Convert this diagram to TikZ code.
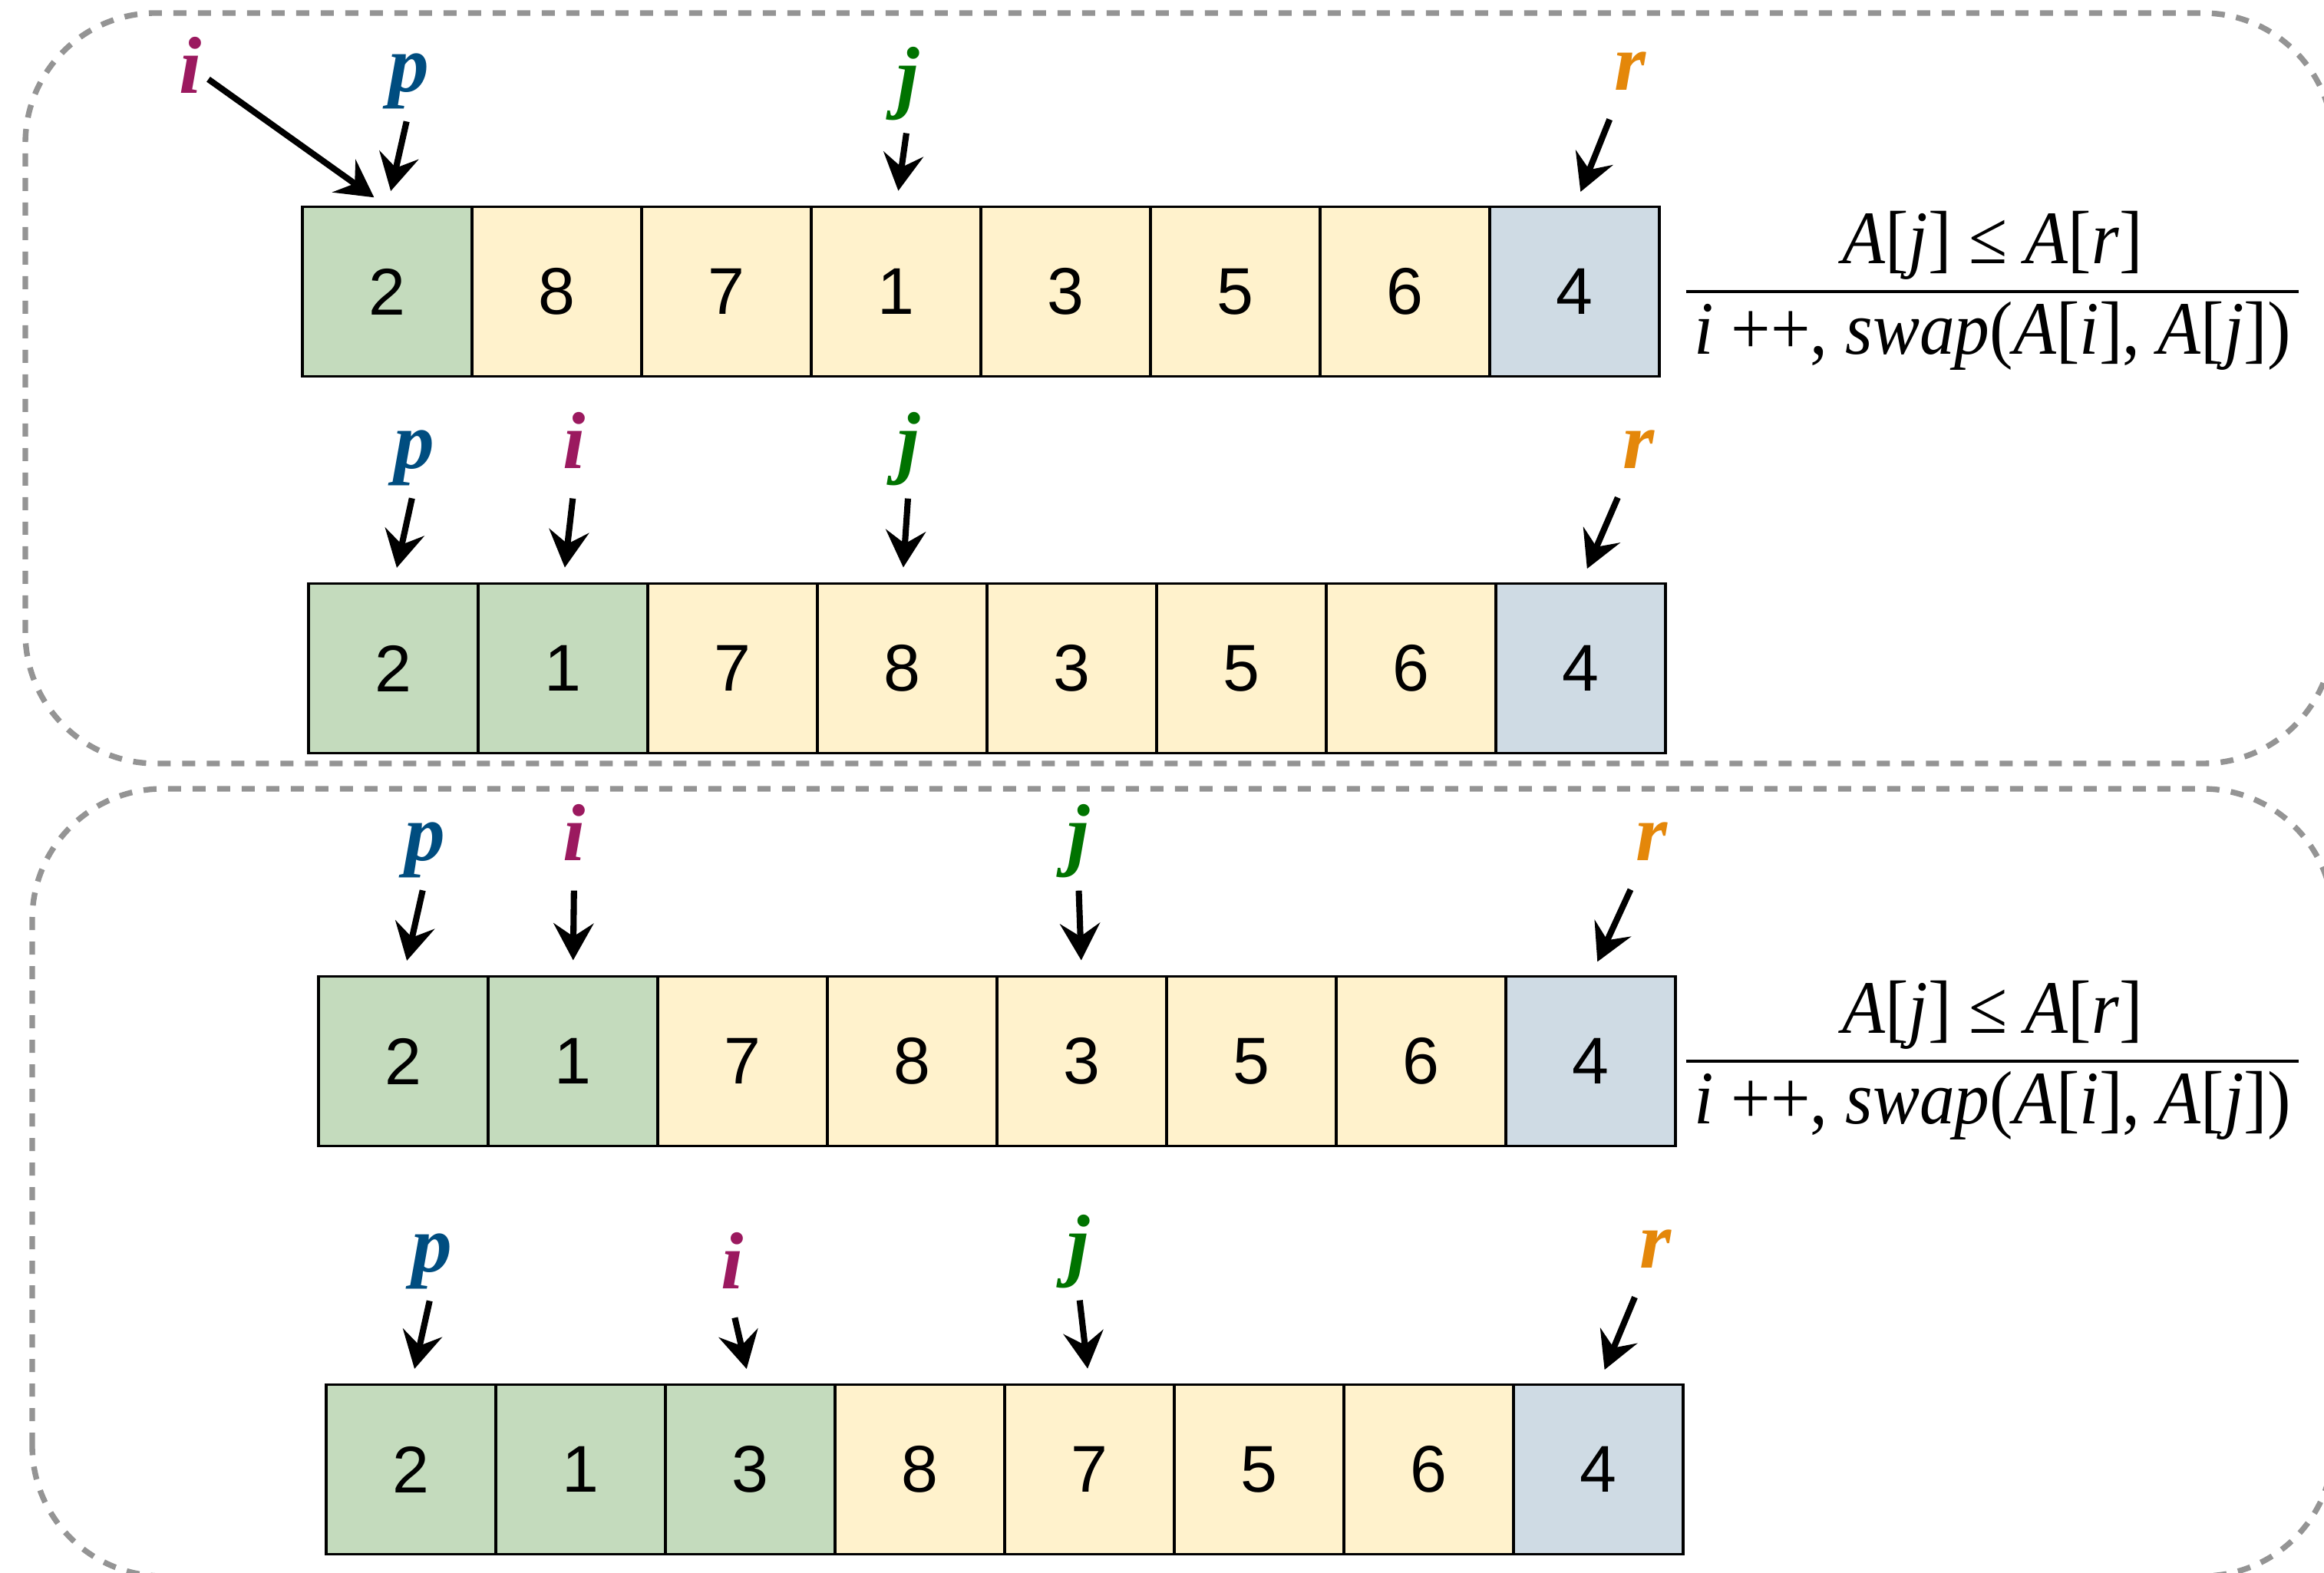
\documentclass[tikz,border=0pt]{standalone}
\usepackage{fontspec}
\usepackage{tikz}
\usetikzlibrary{arrows.meta, positioning}
\usepackage{xcolor}
\definecolor{cgreen}{RGB}{196,219,189}
\definecolor{cyellow}{RGB}{255,242,204}
\definecolor{cblue}{RGB}{207,219,228}
\definecolor{colI}{RGB}{155,25,95}
\definecolor{colP}{RGB}{0,77,128}
\definecolor{colJ}{RGB}{0,115,0}
\definecolor{colR}{RGB}{228,135,10}
\newfontfamily\numfont{Liberation Sans}
\newfontfamily\serfont{Liberation Serif}
\newfontfamily\condfont{Liberation Serif}[FakeStretch=0.93]
\setlength{\arrayrulewidth}{1.4pt}
\setlength{\tabcolsep}{3pt}

\tikzset{
    cell/.style={draw, line width=0.9pt, minimum size=2.21cm, inner sep=0pt, outer sep=0pt,
                 font=\numfont\fontsize{24.5}{29}\selectfont},
    lbl/.style={font=\serfont\bfseries\itshape\fontsize{30}{36}\selectfont, inner sep=0pt,
                text height=0.72cm, text depth=0.23cm, anchor=base},
    ptr/.style={-{Stealth[length=0.48cm, width=0.52cm, inset=0.17cm]}, line width=2.3pt,
                shorten <=0.15cm, shorten >=0.21cm},
    frame/.style={draw=black!42, line width=2.1pt, dash pattern=on 0.17cm off 0.15cm,
                  rounded corners=1.7cm},
    cond/.style={inner sep=0pt, font=\condfont\fontsize{28}{32}\selectfont}
}

\begin{document}
\begin{tikzpicture}
    \useasboundingbox (0,0) rectangle (30.28,20.49);

    % Cadres
    \draw[frame] (0.33,10.54) rectangle (30.40,20.32);
    \draw[frame] (0.42,-0.05) rectangle (30.40,10.21);

    % --- Etape 1 ---
    \foreach \v/\c [count=\k from 0] in {2/cgreen, 8/cyellow, 7/cyellow, 1/cyellow,
                                          3/cyellow, 5/cyellow, 6/cyellow, 4/cblue} {
        \node[cell, fill=\c] (a\k) at ({3.94+1.105+2.21*\k}, 16.69) {\v};
    }
    \node[lbl, colI] (i1) at (2.48,19.27) {i};
    \node[lbl, colP] (p1) at (5.33,19.29) {p};
    \node[lbl, colJ] (j1) at (11.83,19.14) {j};
    \node[lbl, colR] (r1) at (21.24,19.31) {r};
    \draw[ptr, shorten <=0.1cm] (i1.east) -- (a0.north);
    \draw[ptr] (p1.south) -- (a0.north);
    \draw[ptr] (j1.south) -- (a3.north);
    \draw[ptr] (r1.south west) -- (a7.north);

    \node[cond, right=0.34cm of a7] (f1) {\begin{tabular}{c}
        \textit{A}[\textit{j}] ≤ \textit{A}[\textit{r}]\\ \hline
        \textit{i} ++, \textit{swap}(\textit{A}[\textit{i}], \textit{A}[\textit{j}])
    \end{tabular}};

    % --- Etape 2 ---
    \foreach \v/\c [count=\k from 0] in {2/cgreen, 1/cgreen, 7/cyellow, 8/cyellow,
                                          3/cyellow, 5/cyellow, 6/cyellow, 4/cblue} {
        \node[cell, fill=\c] (b\k) at ({4.02+1.105+2.21*\k}, 11.78) {\v};
    }
    \node[lbl, colP] (p2) at (5.40,14.38) {p};
    \node[lbl, colI] (i2) at (7.48,14.38) {i};
    \node[lbl, colJ] (j2) at (11.84,14.38) {j};
    \node[lbl, colR] (r2) at (21.35,14.38) {r};
    \draw[ptr] (p2.south) -- (b0.north);
    \draw[ptr] (i2.south) -- (b1.north);
    \draw[ptr] (j2.south) -- (b3.north);
    \draw[ptr] (r2.south west) -- (b7.north);

    % --- Etape 3 ---
    \foreach \v/\c [count=\k from 0] in {2/cgreen, 1/cgreen, 7/cyellow, 8/cyellow,
                                          3/cyellow, 5/cyellow, 6/cyellow, 4/cblue} {
        \node[cell, fill=\c] (c\k) at ({4.15+1.105+2.21*\k}, 6.66) {\v};
    }
    \node[lbl, colP] (p3) at (5.54,9.27) {p};
    \node[lbl, colI] (i3) at (7.48,9.27) {i};
    \node[lbl, colJ] (j3) at (14.05,9.27) {j};
    \node[lbl, colR] (r3) at (21.52,9.27) {r};
    \draw[ptr] (p3.south) -- (c0.north);
    \draw[ptr] (i3.south) -- (c1.north);
    \draw[ptr] (j3.south) -- (c4.north);
    \draw[ptr] (r3.south west) -- (c7.north);

    \node[cond, right=0.13cm of c7] (f2) {\begin{tabular}{c}
        \textit{A}[\textit{j}] ≤ \textit{A}[\textit{r}]\\ \hline
        \textit{i} ++, \textit{swap}(\textit{A}[\textit{i}], \textit{A}[\textit{j}])
    \end{tabular}};

    % --- Etape 4 ---
    \foreach \v/\c [count=\k from 0] in {2/cgreen, 1/cgreen, 3/cgreen, 8/cyellow,
                                          7/cyellow, 5/cyellow, 6/cyellow, 4/cblue} {
        \node[cell, fill=\c] (d\k) at ({4.25+1.105+2.21*\k}, 1.34) {\v};
    }
    \node[lbl, colP] (p4) at (5.63,3.92) {p};
    \node[lbl, colI] (i4) at (9.54,3.70) {i};
    \node[lbl, colJ] (j4) at (14.05,3.93) {j};
    \node[lbl, colR] (r4) at (21.57,3.96) {r};
    \draw[ptr] (p4.south) -- (d0.north);
    \draw[ptr] (i4.south) -- (d2.north);
    \draw[ptr] (j4.south) -- (d4.north);
    \draw[ptr] (r4.south west) -- (d7.north);
\end{tikzpicture}
\end{document}
